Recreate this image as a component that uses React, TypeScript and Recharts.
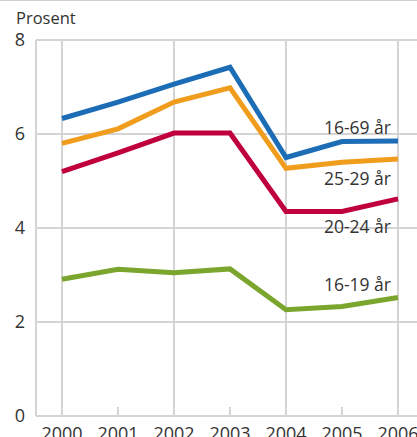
import React from "react";
import { LineChart, Line, XAxis, YAxis, CartesianGrid } from "recharts";

const years = [2000, 2001, 2002, 2003, 2004, 2005, 2006];
const age1669 = [6.33, 6.68, 7.06, 7.42, 5.5, 5.84, 5.85];
const age2529 = [5.8, 6.11, 6.68, 6.98, 5.27, 5.4, 5.47];
const age2024 = [5.2, 5.6, 6.02, 6.02, 4.35, 4.35, 4.62];
const age1619 = [2.91, 3.12, 3.05, 3.13, 2.26, 2.33, 2.52];
const yTicks = [0, 2, 4, 6, 8];
const gridYears = [2000, 2002, 2004, 2006];

const data = years.map((year, i) => ({
  year,
  a1669: age1669[i],
  a2529: age2529[i],
  a2024: age2024[i],
  a1619: age1619[i],
}));

const FONT = "'Open Sans', 'Noto Sans', sans-serif";
const TEXT = "#333333";
const GRID = "#d4d4d4";
const TICK_FS = 18;
const LABEL_FS = 17.5;

function XTick(props: any) {
  const { x, y, payload } = props;
  const odd = payload.value % 2 === 1;
  return (
    <g>
      {odd && <line x1={x} x2={x} y1={y - 9} y2={y} stroke={GRID} strokeWidth={2} />}
      <text x={x} y={y + 11} dy="0.71em" textAnchor="middle" fill={TEXT} fontSize={TICK_FS} fontFamily={FONT}>
        {payload.value}
      </text>
    </g>
  );
}

function endLabel(text: string, dy: number) {
  return (props: any) => {
    if (props.index !== years.length - 1) return null;
    return (
      <text x={props.x - 7} y={props.y + dy} textAnchor="end" fill={TEXT} fontSize={LABEL_FS} fontFamily={FONT}>
        {text}
      </text>
    );
  };
}

export default function App() {
  return (
    <div style={{ position: "absolute", left: 0, top: 0, width: 417, height: 437, overflow: "hidden", background: "#fff" }}>
      <div style={{ position: "absolute", left: 0, top: 0, width: 417, height: 1, background: "#cfcfcf" }} />
      <div
        style={{
          position: "absolute",
          left: 16,
          top: 8,
          fontFamily: FONT,
          fontSize: 16.5,
          lineHeight: "20px",
          color: TEXT,
        }}
      >
        Prosent
      </div>
      <LineChart width={440} height={460} data={data} margin={{ top: 40, right: 0, bottom: 14, left: 0 }}>
        <CartesianGrid
          stroke={GRID}
          strokeWidth={2}
          horizontalValues={[2, 4, 6, 8]}
          verticalValues={gridYears}
        />
        <XAxis
          dataKey="year"
          type="number"
          domain={[1999.536, 2006.75]}
          allowDataOverflow
          ticks={years}
          interval={0}
          height={30}
          tickSize={0}
          tickMargin={0}
          axisLine={{ stroke: GRID, strokeWidth: 2 }}
          tickLine={false}
          tick={<XTick />}
        />
        <YAxis
          domain={[0, 8]}
          ticks={yTicks}
          width={36}
          tickSize={0}
          tickMargin={11}
          axisLine={{ stroke: GRID, strokeWidth: 2 }}
          tickLine={false}
          tick={{ fill: TEXT, fontSize: TICK_FS, fontFamily: FONT }}
        />
        <Line dataKey="a1619" stroke="#7ba62e" strokeWidth={5} dot={false} isAnimationActive={false} label={endLabel("16-19 år", -7)} />
        <Line dataKey="a2024" stroke="#c0003d" strokeWidth={5} dot={false} isAnimationActive={false} label={endLabel("20-24 år", 34)} />
        <Line dataKey="a2529" stroke="#f09c1c" strokeWidth={5} dot={false} isAnimationActive={false} label={endLabel("25-29 år", 26)} />
        <Line dataKey="a1669" stroke="#1c6db6" strokeWidth={5} dot={false} isAnimationActive={false} label={endLabel("16-69 år", -7)} />
      </LineChart>
    </div>
  );
}
